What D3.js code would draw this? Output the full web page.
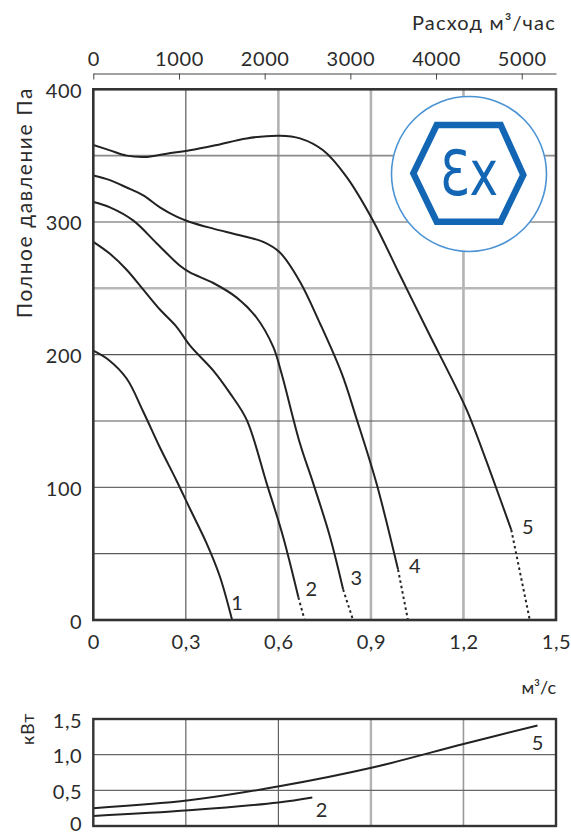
<!DOCTYPE html>
<head>
  <meta charset="utf-8">
  <script src="https://d3js.org/d3.v7.min.js"></script>
  <style>
    body { margin: 0; background: #fff; font-family: "Lato", "Open Sans", sans-serif; }
    svg { display: block; }
    text { fill: #2b2b2b; }
    .axis path, .axis line { stroke: #444; }
  </style>
</head>
<body>
  <svg width="571" height="834"></svg>
  <script>
    // flow (m3/s) and total pressure (Pa), one list per fan
    var flow1 = [0, 0.05, 0.108, 0.162, 0.216, 0.27, 0.313, 0.367, 0.41, 0.45];
    var pres1 = [203, 196, 182, 157, 130, 105, 84, 58, 33, 0];
    var flow2 = [0, 0.054, 0.108, 0.162, 0.216, 0.27, 0.313, 0.389, 0.443, 0.497, 0.562, 0.615, 0.665, 0.685];
    var pres2 = [285, 276, 264, 249, 234, 221, 207, 188, 171, 151, 103, 63, 17, 0];
    var flow3 = [0, 0.054, 0.13, 0.205, 0.281, 0.313, 0.389, 0.465, 0.529, 0.583, 0.61, 0.67, 0.713, 0.767, 0.81, 0.842];
    var pres3 = [315, 311, 301, 284, 267, 262, 254, 243, 228, 206, 186, 133, 103, 63, 23, 0];
    var flow4 = [0, 0.054, 0.108, 0.162, 0.216, 0.27, 0.313, 0.389, 0.475, 0.551, 0.605, 0.67, 0.734, 0.805, 0.853, 0.918, 0.988, 1.02];
    var pres4 = [335, 331.5, 326, 320, 311, 304, 300, 295, 290, 285, 277, 255, 224, 186, 152, 103, 38, 0];
    var flow5 = [0, 0.054, 0.108, 0.173, 0.238, 0.313, 0.4, 0.497, 0.605, 0.67, 0.745, 0.821, 0.907, 0.994, 1.09, 1.166, 1.215, 1.296, 1.355, 1.415];
    var pres5 = [358, 354, 350, 349, 351.5, 354, 358, 363, 365, 363, 354, 334, 301, 260, 215, 180, 156, 106, 68, 0];
    // index where the dotted tail starts (-1 = none)
    var dotFrom = [-1, 12, 14, 16, 18];
    var curveNames = ['1', '2', '3', '4', '5'];
    var labelFlow = [0.466, 0.707, 0.853, 1.042, 1.409];
    var labelPres = [13, 23, 32, 41, 70];

    // power (kW)
    var pflow2 = [0, 0.31, 0.6, 0.71];
    var power2 = [0.14, 0.22, 0.33, 0.40];
    var pflow5 = [0, 0.31, 0.607, 0.905, 1.2, 1.44];
    var power5 = [0.25, 0.36, 0.56, 0.82, 1.15, 1.41];
    var powerNames = ['2', '5'];
    var powerLabelFlow = [0.74, 1.44];
    var powerLabelPow = [0.22, 1.16];

    var flowTicks = [0, 0.3, 0.6, 0.9, 1.2, 1.5];
    var presTicks = [0, 100, 200, 300, 400];
    var hourTicks = [0, 1000, 2000, 3000, 4000, 5000];
    var powerTicks = [0, 0.5, 1.0, 1.5];

    var svg = d3.select('svg');
    var comma = function(d) { return d === 0 ? '0' : d3.format('.1f')(d).replace('.', ','); };

    var x = d3.scaleLinear().domain([0, 1.5]).range([93.3, 556]);
    var y = d3.scaleLinear().domain([0, 400]).range([620, 89.3]);
    var xh = d3.scaleLinear().domain([0, 1.5 * 3600]).range([93.3, 556]);
    var yp = d3.scaleLinear().domain([0, 1.5]).range([826, 719]);

    function tickText(sel) {
      sel.style('font-size', '20px').style('font-family', 'Lato')
        .style('letter-spacing', '0.6px').attr('fill', '#2b2b2b');
    }

    // ---- main chart grid
    var g = svg.append('g');
    var vGrid = [[0.3, '#4a4a4a', 1.1], [0.6, '#b3b3b3', 2.6], [0.9, '#b3b3b3', 2.6], [1.2, '#b3b3b3', 2.6]];
    var hGrid = [[50, '#5a5a5a', 1.1], [100, '#6a6a6a', 1.2], [150, '#555', 1.1], [200, '#555', 1.1],
                 [250, '#b8b8b8', 2.6], [300, '#5a5a5a', 1.2], [350, '#8a8a8a', 1.6]];
    g.selectAll('line.vg').data(vGrid).enter().append('line')
      .attr('x1', function(d) { return x(d[0]); }).attr('x2', function(d) { return x(d[0]); })
      .attr('y1', y(0)).attr('y2', y(400))
      .attr('stroke', function(d) { return d[1]; }).attr('stroke-width', function(d) { return d[2]; });
    g.selectAll('line.hg').data(hGrid).enter().append('line')
      .attr('y1', function(d) { return y(d[0]); }).attr('y2', function(d) { return y(d[0]); })
      .attr('x1', x(0)).attr('x2', x(1.5))
      .attr('stroke', function(d) { return d[1]; }).attr('stroke-width', function(d) { return d[2]; });

    // Ex logo
    var logo = g.append('g').attr('transform', 'translate(469,174)');
    logo.append('circle').attr('r', 77.5).attr('fill', '#fff')
      .attr('stroke', '#4b93d3').attr('stroke-width', 1.6);
    logo.append('path')
      .attr('d', 'M-55.7,-0.7 L-32.3,-49 L31.7,-49 L54.3,1 L31.7,47.7 L-32.3,47.7 Z')
      .attr('fill', 'none').attr('stroke', '#1266b4').attr('stroke-width', 6.5)
      .attr('stroke-linejoin', 'miter');
    logo.append('text')
      .attr('x', 0).attr('y', 21)
      .attr('text-anchor', 'middle')
      .style('font-family', '"DejaVu Sans"')
      .style('font-size', '62px')
      .style('fill', '#1266b4')
      .attr('transform', 'scale(0.78,1)')
      .text('Ɛx');

    // curves
    var line = d3.line()
      .x(function(d) { return x(d[0]); })
      .y(function(d) { return y(d[1]); })
      .curve(d3.curveCatmullRom.alpha(0.5));
    var flows = [flow1, flow2, flow3, flow4, flow5];
    var press = [pres1, pres2, pres3, pres4, pres5];
    flows.forEach(function(f, k) {
      var pts = f.map(function(q, i) { return [q, press[k][i]]; });
      var cut = dotFrom[k];
      var solid = cut < 0 ? pts : pts.slice(0, cut + 1);
      g.append('path').attr('d', line(solid))
        .attr('fill', 'none').attr('stroke', '#222').attr('stroke-width', 2);
      if (cut >= 0) {
        g.append('path').attr('d', line(pts.slice(cut)))
          .attr('fill', 'none').attr('stroke', '#222').attr('stroke-width', 2)
          .attr('stroke-dasharray', '2.5,3');
      }
      g.append('text')
        .attr('x', x(labelFlow[k])).attr('y', y(labelPres[k]))
        .attr('dy', '0.35em').attr('text-anchor', 'middle')
        .style('font-size', '20px')
        .text(curveNames[k]);
    });

    // frame
    g.append('rect')
      .attr('x', x(0)).attr('y', y(400))
      .attr('width', x(1.5) - x(0)).attr('height', y(0) - y(400))
      .attr('fill', 'none').attr('stroke', '#333').attr('stroke-width', 2.6);

    // top axis (m3/h)
    var topAxis = svg.append('g').attr('class', 'axis')
      .attr('transform', 'translate(0,73.5)')
      .call(d3.axisTop(xh).tickValues(hourTicks).tickFormat(d3.format('d'))
        .tickSizeInner(-6).tickSizeOuter(0).tickPadding(8));
    topAxis.select('.domain').attr('stroke', '#555').attr('stroke-width', 1.2);
    topAxis.selectAll('.tick line').attr('stroke', '#555');
    topAxis.selectAll('text').call(tickText);

    svg.append('text').attr('x', 556).attr('y', 30).attr('text-anchor', 'end')
      .style('font-size', '20px').style('letter-spacing', '1.2px')
      .text('Расход м³/час');

    // bottom axis labels
    var bottomAxis = svg.append('g').attr('class', 'axis')
      .attr('transform', 'translate(0,' + y(0) + ')')
      .call(d3.axisBottom(x).tickValues(flowTicks).tickSize(0).tickPadding(15).tickFormat(comma));
    bottomAxis.select('.domain').remove();
    bottomAxis.selectAll('text').call(tickText);

    // left axis labels
    var leftAxis = svg.append('g').attr('class', 'axis')
      .attr('transform', 'translate(' + x(0) + ',0)')
      .call(d3.axisLeft(y).tickValues(presTicks).tickSize(0).tickPadding(11));
    leftAxis.select('.domain').remove();
    leftAxis.selectAll('text').call(tickText);
    leftAxis.selectAll('text').attr('dy', '0.4em');

    svg.append('text')
      .attr('transform', 'translate(32,87) rotate(-90)')
      .attr('text-anchor', 'end')
      .style('font-size', '21px').style('letter-spacing', '1.6px')
      .text('Полное давление Па');

    // ---- power chart
    var pg = svg.append('g');
    var pvGrid = [[0.3, '#555', 1.1], [0.6, '#555', 1.1], [0.9, '#b3b3b3', 2.4], [1.2, '#999', 1.6]];
    pg.selectAll('line.vg').data(pvGrid).enter().append('line')
      .attr('x1', function(d) { return x(d[0]); }).attr('x2', function(d) { return x(d[0]); })
      .attr('y1', yp(0)).attr('y2', yp(1.5))
      .attr('stroke', function(d) { return d[1]; }).attr('stroke-width', function(d) { return d[2]; });
    pg.selectAll('line.hg').data([0.5, 1.0]).enter().append('line')
      .attr('y1', function(d) { return yp(d); }).attr('y2', function(d) { return yp(d); })
      .attr('x1', x(0)).attr('x2', x(1.5))
      .attr('stroke', '#666').attr('stroke-width', 1.1);

    var pline = d3.line()
      .x(function(d) { return x(d[0]); })
      .y(function(d) { return yp(d[1]); })
      .curve(d3.curveCatmullRom.alpha(0.5));
    [[pflow2, power2], [pflow5, power5]].forEach(function(s, k) {
      var pts = s[0].map(function(q, i) { return [q, s[1][i]]; });
      pg.append('path').attr('d', pline(pts))
        .attr('fill', 'none').attr('stroke', '#222').attr('stroke-width', 2);
      pg.append('text')
        .attr('x', x(powerLabelFlow[k])).attr('y', yp(powerLabelPow[k]))
        .attr('dy', '0.35em').attr('text-anchor', 'middle')
        .style('font-size', '20px')
        .text(powerNames[k]);
    });

    pg.append('rect')
      .attr('x', x(0)).attr('y', yp(1.5))
      .attr('width', x(1.5) - x(0)).attr('height', yp(0) - yp(1.5))
      .attr('fill', 'none').attr('stroke', '#333').attr('stroke-width', 2.4);

    var pleftAxis = svg.append('g').attr('class', 'axis')
      .attr('transform', 'translate(' + x(0) + ',0)')
      .call(d3.axisLeft(yp).tickValues(powerTicks).tickSize(0).tickPadding(11).tickFormat(comma));
    pleftAxis.select('.domain').remove();
    pleftAxis.selectAll('text').call(tickText);
    pleftAxis.selectAll('text').attr('dy', '0.4em');
    pleftAxis.selectAll('.tick').filter(function(d) { return d === 0; })
      .select('text').attr('dy', '0.2em');

    svg.append('text').attr('x', 556).attr('y', 694).attr('text-anchor', 'end')
      .style('font-size', '18px').text('м³/с');

    svg.append('text')
      .attr('transform', 'translate(34,729) rotate(-90)')
      .attr('text-anchor', 'middle')
      .style('font-size', '18px').style('letter-spacing', '0.8px')
      .text('кВт');
  </script>
</body>
